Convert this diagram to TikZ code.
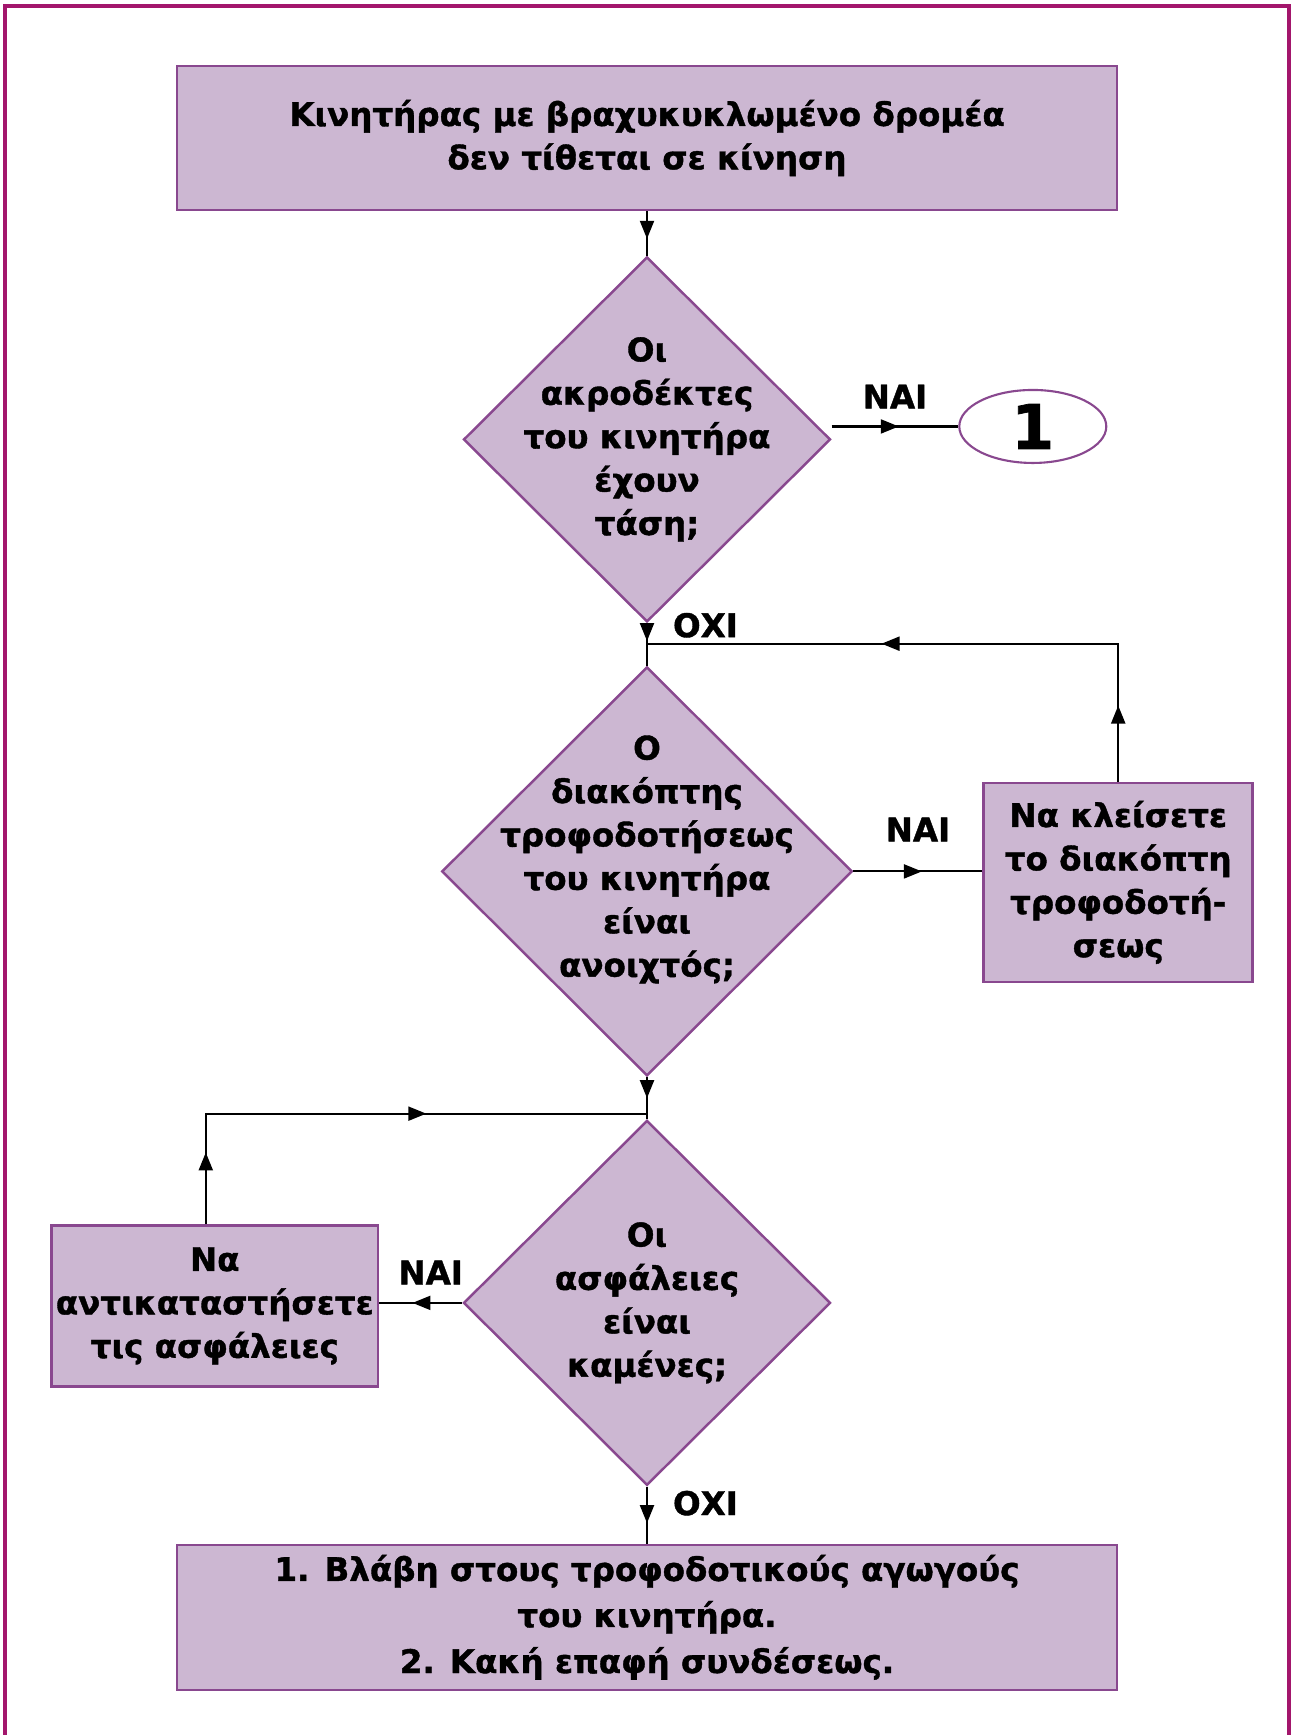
\documentclass[tikz,border=0pt]{standalone}
\usepackage{fontspec}
\setmainfont{DejaVu Sans}[BoldFeatures={FakeBold=1.2}]
\usepackage{xcolor}
\usetikzlibrary{positioning,arrows.meta,shapes.geometric,decorations.markings}

\definecolor{boxfill}{RGB}{204,183,210}
\definecolor{boxline}{RGB}{137,72,143}
\definecolor{framecol}{RGB}{163,22,108}

\begin{document}
\begin{tikzpicture}[
    every node/.style={font=\bfseries\fontsize{18.5}{24.7}\selectfont},
    >={Triangle[length=0.36cm,width=0.28cm]},
    action/.style={rectangle, draw=boxline, fill=boxfill, line width=1.4pt, align=center, inner sep=0pt},
    decision/.style={diamond, draw=boxline, fill=boxfill, line width=1.4pt, inner sep=0pt},
    connector/.style={ellipse, draw=boxline, fill=white, line width=1.2pt, inner sep=0pt, minimum width=2.94cm, minimum height=1.46cm, font=\bfseries\fontsize{35}{35}\selectfont},
    qtext/.style={align=center, inner sep=0pt},
    answer/.style={inner sep=0pt},
    arrow/.style={line width=1.2pt, postaction={decorate}, decoration={markings, mark=at position #1 with {\arrow{>}}}},
    arrow/.default=0.5,
    backflow/.style 2 args={line width=1.2pt, postaction={decorate}, decoration={markings, mark=at position #1 with {\arrow{>}}, mark=at position #2 with {\arrow{>}}}}
]
\useasboundingbox (0,0) rectangle (25.84,-34.70);

% page frame, open at the bottom
\draw[framecol, line width=2pt] (0.105,-34.70) -- (0.105,-0.12) -- (25.78,-0.12) -- (25.78,-34.70);

% main column
\node[action, minimum width=18.8cm, minimum height=2.88cm] (start) at (12.94,-2.76) {Κινητήρας με βραχυκυκλωμένο δρομέα\\δεν τίθεται σε κίνηση};
\node[decision, minimum width=7.34cm, minimum height=7.3cm, below=0.89cm of start,
      label={[qtext]center:{Οι\\ακροδέκτες\\του κινητήρα\\έχουν\\τάση;}}] (voltage) {};
\coordinate[below=0.41cm of voltage] (j1);
\node[decision, minimum width=8.21cm, minimum height=8.18cm, below=0.85cm of voltage,
      label={[qtext, yshift=0.24cm]center:{Ο\\διακόπτης\\τροφοδοτήσεως\\του κινητήρα\\είναι\\ανοιχτός;}}] (switch) {};
\coordinate[below=0.73cm of switch] (j2);
\node[decision, minimum width=7.34cm, minimum height=7.3cm, below=0.84cm of switch,
      label={[qtext]center:{Οι\\ασφάλειες\\είναι\\καμένες;}}] (fuses) {};
\node[action, minimum width=18.8cm, minimum height=2.9cm, below=1.14cm of fuses] (faults) {1. Βλάβη στους τροφοδοτικούς αγωγούς\\[1.5pt]του κινητήρα.\\[1.5pt]2. Κακή επαφή συνδέσεως.};

% side branches
\node[connector, right=2.53cm of voltage, yshift=0.26cm] (one) {1};
\node[action, minimum width=5.38cm, minimum height=3.98cm, right=2.58cm of switch, yshift=-0.22cm] (close) {Να κλείσετε\\το διακόπτη\\τροφοδοτή-\\σεως};
\node[action, minimum width=6.53cm, minimum height=3.22cm, left=1.66cm of fuses, yshift=-0.06cm] (replace) {Να\\αντικαταστήσετε\\τις ασφάλειες};
\coordinate (rise) at ([xshift=-0.18cm]replace.north);

% connectors
\draw[arrow=0.62] (start) -- (voltage);
\draw[arrow=0.42] (voltage) -- node[answer, pos=0.1, right=0.5cm] {ΟΧΙ} (j1) -- (switch);
\draw[arrow=0.53] (voltage.east |- one.west) -- node[answer, above=0.34cm] {ΝΑΙ} (one.west);
\draw[arrow=0.53] (switch.east) -- node[answer, above=0.58cm] {ΝΑΙ} (switch.east -| close.west);
\draw[backflow={0.125}{0.615}] (close) -- (close |- j1) -- (j1);
\draw[arrow=0.5] (switch) -- (j2) -- (fuses);
\draw[arrow=0.6] (fuses.west) -- node[answer, pos=0.38, above=0.35cm] {ΝΑΙ} (fuses.west -| replace.east);
\draw[backflow={0.13}{0.6}] (rise) -- (rise |- j2) -- (j2);
\draw[arrow=0.64] (fuses) -- node[answer, pos=0.29, right=0.5cm] {ΟΧΙ} (faults);
\end{tikzpicture}
\end{document}
